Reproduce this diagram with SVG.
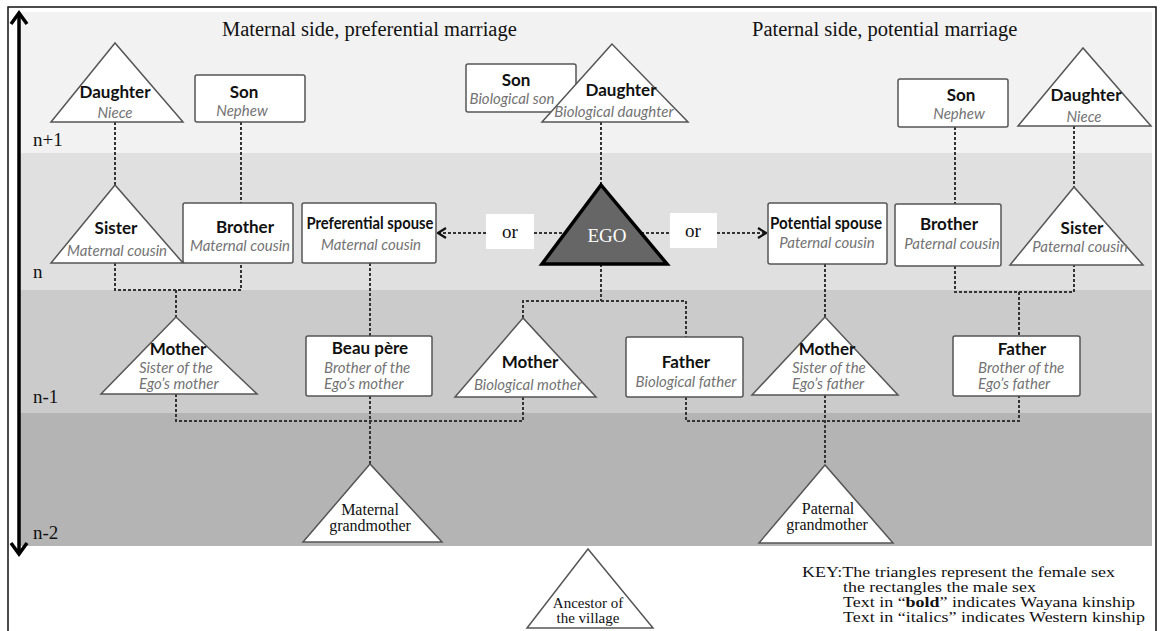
<svg xmlns="http://www.w3.org/2000/svg" width="1160" height="631" viewBox="0 0 1160 631">
<style>
.nd{fill:#fff;stroke:#555;stroke-width:1.5}
.b{font-family:Lato,"Open Sans",sans-serif;font-weight:bold;font-size:17px;fill:#111;text-anchor:middle}
.i{font-family:Lato,"Open Sans",sans-serif;font-style:italic;font-size:15px;fill:#737373;text-anchor:middle}
.st{text-anchor:start}
.sr{font-family:"Liberation Serif","Times New Roman",serif;fill:#111}
.t{font-size:20.5px}
.lv{font-size:19px}
.g{font-size:16px;text-anchor:middle}
.k{font-size:15px}
.c{fill:none;stroke:#333;stroke-width:2;stroke-dasharray:3 2}
</style>
<defs>
<marker id="ah" viewBox="0 0 10 12" refX="9" refY="6" markerWidth="10" markerHeight="12" markerUnits="userSpaceOnUse" orient="auto">
<path d="M1,1 L9,6 L1,11" fill="none" stroke="#111" stroke-width="2.2"/>
</marker>
</defs>
<rect x="0" y="0" width="1160" height="631" fill="#fff"/>
<g id="bands">
<rect x="20" y="12" width="1132" height="141" fill="#f2f2f2"/>
<rect x="20" y="153" width="1132" height="137" fill="#e0e0e0"/>
<rect x="20" y="290" width="1132" height="123" fill="#cbcbcb"/>
<rect x="20" y="413" width="1132" height="133" fill="#b4b4b4"/>
</g>
<rect x="8" y="7" width="1148" height="630" fill="none" stroke="#111" stroke-width="1.5"/>
<g id="axis">
<line x1="19" y1="14" x2="19" y2="552" stroke="#000" stroke-width="3.5"/>
<path d="M11,24 L19,13 L27,24" fill="none" stroke="#000" stroke-width="3.5"/>
<path d="M11,543 L19,554 L27,543" fill="none" stroke="#000" stroke-width="3.5"/>
<text class="sr lv" x="33" y="146">n+1</text>
<text class="sr lv" x="33" y="278">n</text>
<text class="sr lv" x="33" y="403">n-1</text>
<text class="sr lv" x="33" y="539">n-2</text>
</g>
<g id="titles">
<text class="sr t" x="222" y="36">Maternal side, preferential marriage</text>
<text class="sr t" x="752" y="36">Paternal side, potential marriage</text>
</g>
<g id="connectors">
<path class="c" d="M115,122 V185"/>
<path class="c" d="M241,122 V203"/>
<path class="c" d="M115,263 V290 H241 V263"/>
<path class="c" d="M176,290 V317"/>
<path class="c" d="M601,122 V185"/>
<path class="c" d="M601,264 V301"/>
<path class="c" d="M523,318 V301 H686 V337"/>
<path class="c" d="M370,263 V336"/>
<path class="c" d="M176,394 V421 H523 V397"/>
<path class="c" d="M370,396 V464"/>
<path class="c" d="M955,127 V204"/>
<path class="c" d="M1074,126 V187"/>
<path class="c" d="M955,266 V292 H1074 V265"/>
<path class="c" d="M1019,292 V336"/>
<path class="c" d="M825,264 V317"/>
<path class="c" d="M686,397 V421 H1019 V396"/>
<path class="c" d="M825,395 V465"/>
<path class="c" d="M486,233 H438" marker-end="url(#ah)"/>
<path class="c" d="M534,233 H570"/>
<path class="c" d="M636,233 H670"/>
<path class="c" d="M717,233 H766" marker-end="url(#ah)"/>
</g>
<g id="or-left"><rect x="486" y="214" width="48" height="35" fill="#fff"/><text class="sr" x="510" y="238" font-size="19" text-anchor="middle">or</text></g>
<g id="or-right"><rect x="670" y="213" width="47" height="35" fill="#fff"/><text class="sr" x="693" y="237" font-size="19" text-anchor="middle">or</text></g>
<g id="daughter-left"><polygon class="nd" points="115,43 51,122 183,122"/><text class="b" x="115" y="98">Daughter</text><text class="i" x="115" y="118">Niece</text></g>
<g id="son-left"><rect class="nd" x="195" y="75" width="110" height="47" rx="2"/><text class="b" x="244" y="98">Son</text><text class="i" x="242" y="116">Nephew</text></g>
<g id="son-center"><rect class="nd" x="466" y="64" width="110" height="48" rx="2"/><text class="b" x="516" y="86">Son</text><text class="i" x="512" y="104">Biological son</text></g>
<g id="daughter-center"><polygon class="nd" points="612,44 542,122 688,122"/><text class="b" x="621" y="96">Daughter</text><text class="i" x="614" y="117">Biological daughter</text></g>
<g id="son-right"><rect class="nd" x="898" y="79" width="110" height="48" rx="2"/><text class="b" x="961" y="101">Son</text><text class="i" x="959" y="119">Nephew</text></g>
<g id="daughter-right"><polygon class="nd" points="1083,48 1018,126 1151,126"/><text class="b" x="1086" y="101">Daughter</text><text class="i" x="1084" y="122">Niece</text></g>
<g id="sister-left"><polygon class="nd" points="115,185 51,263 183,263"/><text class="b" x="116" y="234">Sister</text><text class="i" x="117" y="256">Maternal cousin</text></g>
<g id="brother-left"><rect class="nd" x="183" y="203" width="110" height="60" rx="2"/><text class="b" x="245" y="233">Brother</text><text class="i" x="240" y="251">Maternal cousin</text></g>
<g id="preferential-spouse"><rect class="nd" x="302" y="203" width="134" height="60" rx="2"/><text class="b" x="370" y="229" font-size="15" textLength="127" lengthAdjust="spacingAndGlyphs">Preferential spouse</text><text class="i" x="371" y="250">Maternal cousin</text></g>
<g id="ego"><polygon points="601,185 542,264 667,264" fill="#666" stroke="#000" stroke-width="3.5" stroke-linejoin="miter"/><text class="sr" x="607" y="242" font-size="19" text-anchor="middle" style="fill:#fff">EGO</text></g>
<g id="potential-spouse"><rect class="nd" x="768" y="203" width="119" height="61" rx="2"/><text class="b" x="826" y="229" font-size="15" textLength="112" lengthAdjust="spacingAndGlyphs">Potential spouse</text><text class="i" x="827" y="248">Paternal cousin</text></g>
<g id="brother-right"><rect class="nd" x="895" y="204" width="106" height="62" rx="2"/><text class="b" x="949" y="230">Brother</text><text class="i" x="952" y="249">Paternal cousin</text></g>
<g id="sister-right"><polygon class="nd" points="1074,187 1010,265 1143,265"/><text class="b" x="1082" y="234">Sister</text><text class="i" x="1080" y="252">Paternal cousin</text></g>
<g id="mother-left"><polygon class="nd" points="176,317 101,394 257,394"/><text class="b" x="178" y="355">Mother</text><text class="i st" x="139" y="373">Sister of the</text><text class="i st" x="139" y="389">Ego’s mother</text></g>
<g id="beau-pere"><rect class="nd" x="306" y="336" width="126" height="60" rx="2"/><text class="b" x="370" y="354">Beau père</text><text class="i st" x="324" y="373">Brother of the</text><text class="i st" x="324" y="389">Ego’s mother</text></g>
<g id="mother-center"><polygon class="nd" points="523,318 455,397 596,397"/><text class="b" x="530" y="368">Mother</text><text class="i" x="528" y="390">Biological mother</text></g>
<g id="father-center"><rect class="nd" x="626" y="337" width="117" height="60" rx="2"/><text class="b" x="686" y="368">Father</text><text class="i" x="686" y="387">Biological father</text></g>
<g id="mother-right"><polygon class="nd" points="825,317 752,395 898,395"/><text class="b" x="827" y="355">Mother</text><text class="i st" x="792" y="373">Sister of the</text><text class="i st" x="792" y="389">Ego’s father</text></g>
<g id="father-right"><rect class="nd" x="953" y="336" width="127" height="60" rx="2"/><text class="b" x="1022" y="355">Father</text><text class="i st" x="978" y="373">Brother of the</text><text class="i st" x="978" y="389">Ego’s father</text></g>
<g id="maternal-grandmother"><polygon class="nd" points="370,464 303,542 442,542"/><text class="sr g" x="370" y="515">Maternal</text><text class="sr g" x="370" y="531">grandmother</text></g>
<g id="paternal-grandmother"><polygon class="nd" points="825,465 759,543 893,543"/><text class="sr g" x="828" y="514">Paternal</text><text class="sr g" x="827" y="530">grandmother</text></g>
<g id="ancestor"><polygon class="nd" points="588,549 527,628 653,628"/><text class="sr" x="588" y="608" font-size="15" text-anchor="middle">Ancestor of</text><text class="sr" x="588" y="623" font-size="15" text-anchor="middle">the village</text></g>
<g id="key">
<text class="sr k" x="802" y="577" textLength="313" lengthAdjust="spacingAndGlyphs">KEY:The triangles represent the female sex</text>
<text class="sr k" x="843" y="592" textLength="193" lengthAdjust="spacingAndGlyphs">the rectangles the male sex</text>
<text class="sr k" x="843" y="607" textLength="292" lengthAdjust="spacingAndGlyphs">Text in “<tspan font-weight="bold">bold</tspan>” indicates Wayana kinship</text>
<text class="sr k" x="843" y="622" textLength="302" lengthAdjust="spacingAndGlyphs">Text in “italics” indicates Western kinship</text>
</g>
</svg>
